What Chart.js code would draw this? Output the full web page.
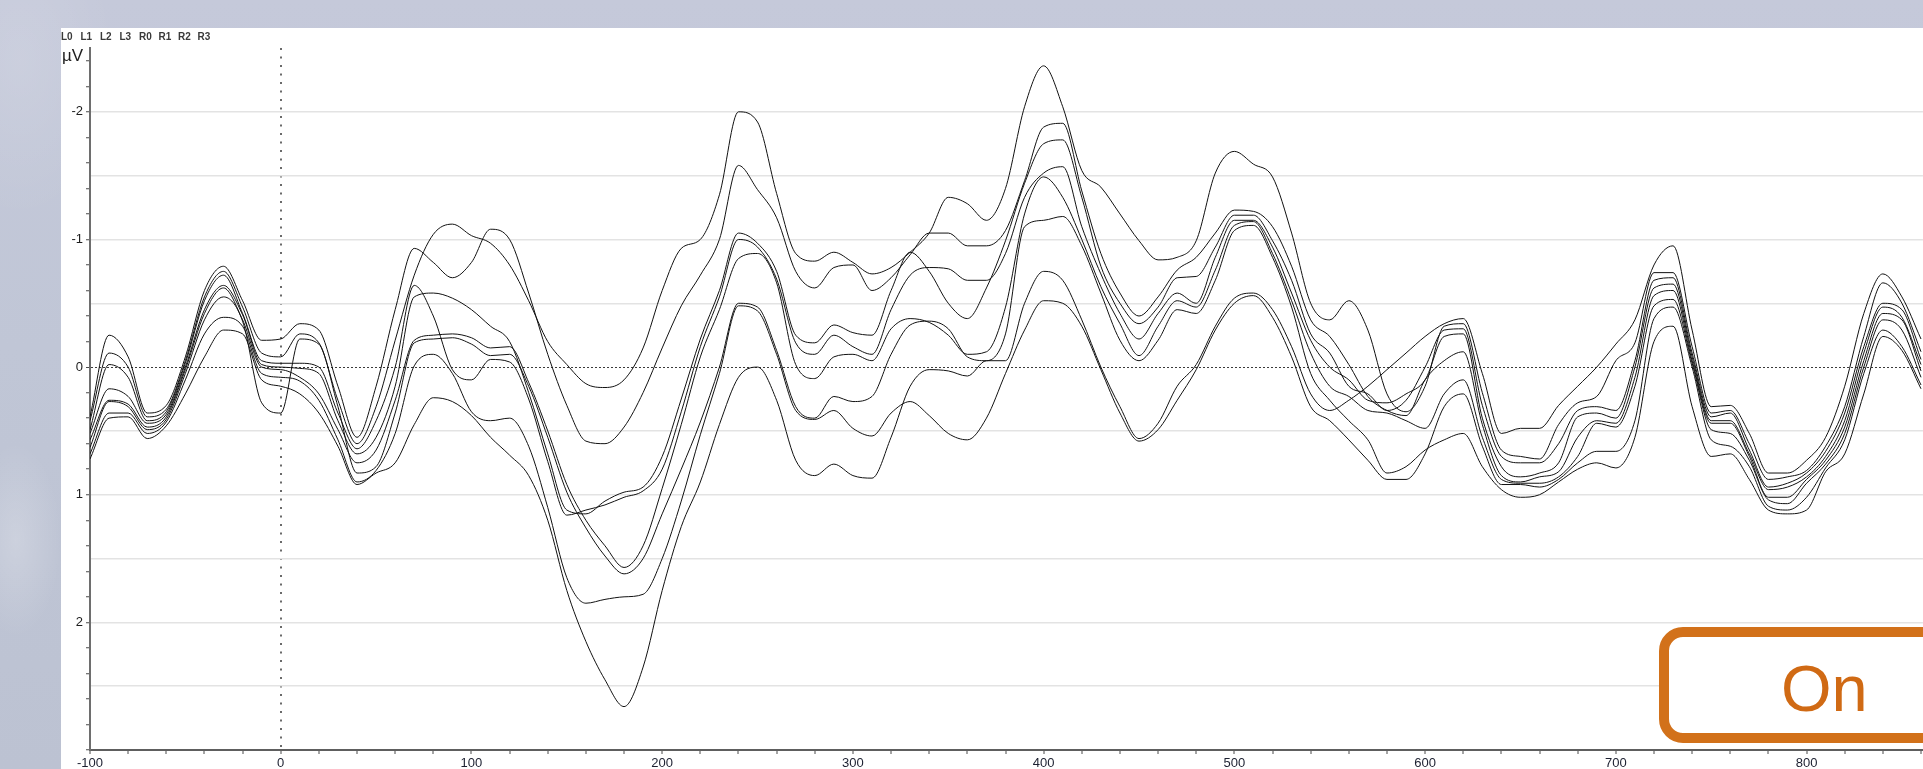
<!DOCTYPE html>
<html>
<head>
<meta charset="utf-8">
<title>ERP channels L0–R3</title>
<script src="https://cdn.jsdelivr.net/npm/chart.js@4.4.1/dist/chart.umd.min.js"></script>
<style>
  html, body { margin: 0; padding: 0; width: 1923px; height: 769px; overflow: hidden; }
  body {
    position: relative;
    font-family: "Liberation Sans", Arial, sans-serif;
    background:
      radial-gradient(ellipse 60px 130px at 16px 540px, rgba(255,255,255,0.22), rgba(255,255,255,0) 75%),
      radial-gradient(ellipse 120px 200px at 20px 60px, rgba(255,255,255,0.12), rgba(255,255,255,0) 80%),
      linear-gradient(180deg, #c5c9da 0%, #c0c6d6 45%, #bcc2d2 100%);
  }
  #panel { position: absolute; left: 61px; top: 28px; width: 1862px; height: 741px; background: #fff; overflow: visible; }
  #legend { position: absolute; left: 0; top: 3px; height: 12px; font-size: 10px; font-weight: bold; color: #3a3a3a; }
  #legend span { position: absolute; top: 0; white-space: nowrap; }
  #unit { position: absolute; left: 1px; top: 18px; font-size: 17px; color: #1e1e1e; line-height: 20px; }
  #erp { position: absolute; left: 0; top: 0; }
  #tag {
    position: absolute; left: 1598px; top: 599px; width: 420px; height: 96px;
    border: 10px solid #d2711a; border-radius: 24px; background: #fff;
  }
  #tag span {
    position: absolute; left: 112px; top: 4px; line-height: 96px;
    font-size: 65px; color: #d06a14;
  }
</style>
</head>
<body>
<div id="panel">
  <canvas id="erp" width="1862" height="744"></canvas>
  <div id="legend"></div>
  <div id="unit">µV</div>
  <div id="tag"><span>On</span></div>
</div>
<script>
// Latency axis in ms (one sample every 10 ms)
const times = [
  -100, -90, -80, -70, -60, -50, -40, -30, -20, -10,
  0, 10, 20, 30, 40, 50, 60, 70, 80, 90,
  100, 110, 120, 130, 140, 150, 160, 170, 180, 190,
  200, 210, 220, 230, 240, 250, 260, 270, 280, 290,
  300, 310, 320, 330, 340, 350, 360, 370, 380, 390,
  400, 410, 420, 430, 440, 450, 460, 470, 480, 490,
  500, 510, 520, 530, 540, 550, 560, 570, 580, 590,
  600, 610, 620, 630, 640, 650, 660, 670, 680, 690,
  700, 710, 720, 730, 740, 750, 760, 770, 780, 790,
  800, 810, 820, 830, 840, 850, 860
];

// Averaged amplitude per channel, µV (negative plotted upward)
const L0 = [
  0.42, -0.11, 0.00, 0.39, 0.33, -0.05, -0.55, -0.75, -0.47, -0.11,
  -0.08, -0.26, -0.19, 0.26, 0.60, 0.31, -0.21, -0.72, -1.04, -1.12,
  -1.03, -0.97, -0.80, -0.52, -0.20, -0.02, 0.13, 0.16, 0.10, -0.15,
  -0.60, -0.93, -1.00, -1.35, -2.00, -1.92, -1.36, -0.89, -0.83, -0.90,
  -0.82, -0.73, -0.78, -0.90, -1.05, -1.33, -1.28, -1.15, -1.40, -2.04,
  -2.36, -2.04, -1.54, -1.41, -1.20, -0.99, -0.84, -0.86, -0.99, -1.52,
  -1.69, -1.59, -1.49, -1.05, -0.50, -0.37, -0.52, -0.29, 0.21, 0.35,
  0.15, -0.32, -0.34, 0.20, 0.65, 0.70, 0.72, 0.45, 0.28, 0.23,
  -0.05, -0.19, -0.74, -0.74, -0.16, 0.36, 0.34, 0.60, 0.88, 0.86,
  0.81, 0.62, 0.31, -0.24, -0.66, -0.50, -0.12
];
const L1 = [
  0.39, -0.25, -0.08, 0.36, 0.30, -0.08, -0.60, -0.79, -0.52, -0.21,
  -0.22, -0.34, -0.29, 0.15, 0.55, 0.15, -0.45, -0.93, -0.82, -0.70,
  -0.82, -1.08, -1.00, -0.58, -0.10, 0.30, 0.58, 0.60, 0.47, 0.20,
  -0.15, -0.48, -0.72, -1.00, -1.58, -1.39, -1.17, -0.75, -0.62, -0.78,
  -0.80, -0.60, -0.70, -0.88, -1.05, -1.05, -0.95, -0.95, -1.07, -1.46,
  -1.88, -1.91, -1.38, -0.89, -0.58, -0.40, -0.55, -0.76, -0.86, -1.05,
  -1.23, -1.22, -1.10, -0.79, -0.37, -0.24, -0.02, 0.23, 0.34, 0.38,
  0.10, -0.05, -0.12, 0.45, 0.85, 0.90, 0.86, 0.82, 0.55, 0.42,
  0.44, 0.08, -0.56, -0.60, -0.05, 0.44, 0.44, 0.70, 1.02, 1.02,
  0.88, 0.73, 0.47, -0.05, -0.42, -0.37, 0.03
];
const L2 = [
  0.52, 0.17, 0.23, 0.44, 0.37, 0.00, -0.45, -0.64, -0.41, -0.02,
  0.00, 0.01, 0.05, 0.42, 0.68, 0.55, 0.15, -0.55, -0.58, -0.54,
  -0.45, -0.32, -0.20, 0.20, 0.68, 1.12, 1.15, 1.05, 0.98, 0.94,
  0.70, 0.25, -0.22, -0.60, -1.05, -0.97, -0.75, -0.25, -0.19, -0.33,
  -0.27, -0.25, -0.60, -0.90, -0.75, -0.50, -0.38, -0.62, -0.99, -1.44,
  -1.75, -1.78, -1.33, -0.79, -0.50, -0.34, -0.47, -0.70, -0.71, -0.94,
  -1.19, -1.19, -0.99, -0.68, -0.26, -0.11, 0.15, 0.21, 0.34, 0.26,
  0.00, -0.29, -0.30, 0.30, 0.70, 0.75, 0.75, 0.60, 0.34, 0.31,
  0.34, -0.05, -0.68, -0.70, -0.11, 0.39, 0.36, 0.65, 0.94, 0.91,
  0.83, 0.66, 0.36, -0.16, -0.50, -0.45, -0.06
];
const L3 = [
  0.49, -0.02, 0.08, 0.42, 0.35, -0.03, -0.52, -0.72, -0.42, -0.05,
  -0.03, -0.03, 0.00, 0.36, 0.64, 0.42, 0.00, -0.64, -0.40, 0.02,
  0.10, -0.06, -0.04, 0.25, 0.74, 1.16, 1.12, 1.08, 1.02, 0.97,
  0.80, 0.35, -0.16, -0.55, -1.00, -0.94, -0.69, -0.19, -0.10, -0.25,
  -0.16, -0.10, -0.45, -0.72, -0.78, -0.77, -0.68, -0.68, -0.89, -1.33,
  -1.52, -1.57, -1.10, -0.73, -0.42, -0.22, -0.42, -0.58, -0.50, -0.86,
  -1.15, -1.15, -0.94, -0.58, -0.21, 0.00, 0.10, 0.26, 0.28, 0.21,
  0.10, -0.24, -0.26, 0.40, 0.78, 0.86, 0.83, 0.75, 0.39, 0.36,
  0.40, 0.00, -0.62, -0.65, -0.08, 0.42, 0.42, 0.68, 0.96, 0.94,
  0.86, 0.70, 0.42, -0.11, -0.47, -0.39, -0.02
];
const R0 = [
  0.57, 0.26, 0.29, 0.47, 0.39, 0.02, -0.42, -0.62, -0.37, 0.00,
  0.02, 0.08, 0.21, 0.49, 0.75, 0.65, 0.26, -0.21, -0.25, -0.26,
  -0.23, -0.15, -0.16, 0.12, 0.50, 0.92, 1.20, 1.40, 1.57, 1.40,
  0.95, 0.45, -0.08, -0.45, -0.85, -0.89, -0.66, -0.02, 0.09, -0.08,
  -0.10, -0.05, -0.30, -0.38, -0.35, -0.25, -0.10, -0.12, -0.47, -1.20,
  -1.49, -1.33, -1.00, -0.63, -0.34, -0.09, -0.32, -0.52, -0.47, -0.76,
  -1.11, -1.14, -0.89, -0.52, -0.11, 0.15, 0.23, 0.34, 0.36, 0.42,
  0.48, 0.21, 0.10, 0.55, 0.88, 0.91, 0.91, 0.86, 0.70, 0.44,
  0.47, 0.15, -0.48, -0.53, -0.03, 0.49, 0.52, 0.73, 1.04, 1.07,
  0.91, 0.76, 0.52, 0.00, -0.37, -0.29, 0.08
];
const R1 = [
  0.63, 0.27, 0.31, 0.49, 0.41, 0.05, -0.37, -0.55, -0.36, 0.28,
  0.36, -0.22, -0.18, 0.31, 0.83, 0.78, 0.36, -0.19, -0.22, -0.23,
  -0.18, -0.09, -0.10, 0.15, 0.55, 0.98, 1.26, 1.48, 1.62, 1.50,
  1.15, 0.80, 0.43, 0.00, -0.50, -0.47, -0.13, 0.31, 0.40, 0.23,
  0.27, 0.23, -0.10, -0.33, -0.36, -0.30, -0.08, -0.05, -0.26, -1.10,
  -1.15, -1.18, -0.95, -0.58, -0.21, -0.05, -0.21, -0.45, -0.42, -0.68,
  -1.07, -1.11, -0.86, -0.47, 0.05, 0.26, 0.42, 0.57, 0.83, 0.78,
  0.65, 0.57, 0.52, 0.78, 0.96, 1.02, 1.00, 0.90, 0.80, 0.75,
  0.79, 0.55, -0.20, -0.32, 0.31, 0.70, 0.68, 0.88, 1.12, 1.15,
  1.12, 0.82, 0.68, 0.21, -0.24, -0.13, 0.17
];
const R2 = [
  0.68, 0.36, 0.36, 0.52, 0.43, 0.10, -0.26, -0.39, -0.32, 0.05,
  0.08, 0.11, 0.26, 0.57, 0.90, 0.81, 0.52, -0.01, -0.10, 0.05,
  0.35, 0.42, 0.40, 0.62, 1.10, 1.65, 1.85, 1.82, 1.80, 1.78,
  1.50, 1.05, 0.53, 0.05, -0.48, -0.44, -0.10, 0.34, 0.41, 0.34,
  0.48, 0.54, 0.36, 0.27, 0.38, 0.52, 0.57, 0.40, 0.05, -0.29,
  -0.52, -0.50, -0.32, 0.02, 0.36, 0.58, 0.49, 0.26, 0.02, -0.29,
  -0.50, -0.56, -0.39, -0.08, 0.31, 0.42, 0.57, 0.73, 0.88, 0.88,
  0.68, 0.31, 0.21, 0.62, 0.92, 0.92, 0.94, 0.88, 0.75, 0.66,
  0.66, 0.42, -0.38, -0.47, 0.00, 0.57, 0.62, 0.78, 1.09, 1.12,
  1.02, 0.79, 0.57, 0.05, -0.29, -0.16, 0.14
];
const R3 = [
  0.72, 0.40, 0.39, 0.56, 0.46, 0.21, -0.08, -0.29, -0.26, 0.10,
  0.15, 0.21, 0.36, 0.62, 0.92, 0.83, 0.75, 0.45, 0.24, 0.27,
  0.38, 0.55, 0.69, 0.85, 1.20, 1.75, 2.15, 2.45, 2.66, 2.35,
  1.75, 1.25, 0.90, 0.45, 0.08, 0.00, 0.26, 0.73, 0.85, 0.76,
  0.85, 0.87, 0.55, 0.15, 0.02, 0.03, 0.07, -0.05, -0.05, -0.50,
  -0.75, -0.68, -0.37, 0.00, 0.31, 0.56, 0.44, 0.15, -0.02, -0.32,
  -0.54, -0.58, -0.45, -0.16, 0.21, 0.34, 0.26, 0.15, 0.02, -0.11,
  -0.24, -0.34, -0.38, 0.05, 0.52, 0.48, 0.48, 0.30, 0.15, 0.00,
  -0.18, -0.37, -0.80, -0.95, -0.29, 0.31, 0.30, 0.52, 0.83, 0.83,
  0.73, 0.55, 0.15, -0.42, -0.73, -0.55, -0.22
];

const channelNames = ['L0', 'L1', 'L2', 'L3', 'R0', 'R1', 'R2', 'R3'];
const channelValues = [L0, L1, L2, L3, R0, R1, R2, R3];

const family = '"Liberation Sans", Arial, sans-serif';

// channel list above the plot
const legend = document.getElementById('legend');
channelNames.forEach((name, i) => {
  const s = document.createElement('span');
  s.textContent = name;
  s.style.left = (i * 19.5) + 'px';
  legend.appendChild(s);
});

// tick value in tenths of a µV (null outside tick contexts)
const tenth = c => (c && c.tick) ? Math.round(c.tick.value * 10) : null;

const datasets = channelNames.map((name, k) => ({
  label: name,
  data: times.map((t, i) => ({ x: t, y: channelValues[k][i] })),
  borderColor: '#111',
  borderWidth: 1,
  pointRadius: 0,
  fill: false,
  cubicInterpolationMode: 'monotone'
}));

new Chart(document.getElementById('erp'), {
  type: 'line',
  data: { datasets },
  options: {
    responsive: false,
    animation: false,
    devicePixelRatio: 1,
    layout: { padding: { top: 20, left: 0, right: 0, bottom: 0 } },
    plugins: { legend: { display: false }, tooltip: { enabled: false } },
    scales: {
      x: {
        type: 'linear',
        min: -100,
        max: 861,
        afterFit: s => { s.height = 22; },
        ticks: {
          stepSize: 20,
          autoSkip: false,
          includeBounds: false,
          maxRotation: 0,
          padding: 2,
          color: '#1c2030',
          font: { family, size: 13 },
          callback: v => (v % 100 === 0 ? String(v) : '')
        },
        grid: {
          color: c => (c.tick && c.tick.value === 0 ? '#6a6a6a' : 'rgba(0,0,0,0)'),
          lineWidth: 2,
          tickColor: '#4a4a4a',
          tickLength: 4,
          tickWidth: 1
        },
        border: {
          color: '#5e5e5e',
          width: 2,
          dash: c => (c.tick && c.tick.value === 0 ? [2, 6.5] : [])
        }
      },
      y: {
        type: 'linear',
        reverse: true,
        min: -2.5,
        max: 3.0,
        afterFit: s => { s.width = 29; },
        ticks: {
          stepSize: 0.1,
          autoSkip: false,
          padding: 3,
          color: '#1c1c1c',
          font: { family, size: 13 },
          callback: v => {
            const k = Math.round(v * 10);
            return (k % 10 === 0 && k < 30) ? String(k / 10) : '';
          }
        },
        grid: {
          color: c => {
            const k = tenth(c);
            if (k === null) return 'rgba(0,0,0,0)';
            if (k === 0) return '#3a3a3a';
            if (k % 5 === 0 && k > -25 && k < 30) return '#e3e3e3';
            return 'rgba(0,0,0,0)';
          },
          lineWidth: c => (tenth(c) === 0 ? 1 : 1.5),
          tickColor: c => {
            const k = tenth(c);
            return k !== null && k % 2 === 0 ? '#4a4a4a' : 'rgba(0,0,0,0)';
          },
          tickLength: 4,
          tickWidth: 1
        },
        border: {
          color: '#6e6e6e',
          width: 2,
          dash: c => (tenth(c) === 0 ? [2, 2] : [])
        }
      }
    }
  }
});
</script>
</body>
</html>
